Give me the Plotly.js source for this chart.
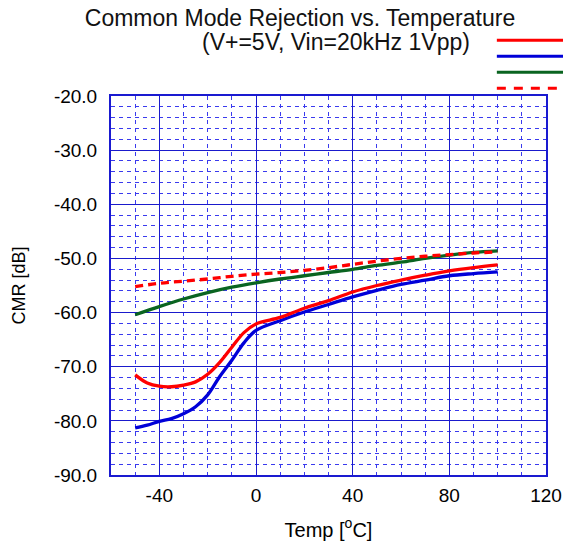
<!DOCTYPE html>
<html>
<head>
<meta charset="utf-8">
<script src="https://cdn.plot.ly/plotly-3.0.1.min.js"></script>
<style>html,body{margin:0;padding:0;background:#fff;}#chart{width:563px;height:550px;}</style>
</head>
<body>
<div id="chart"></div>
<script>
// Temperatures [°C]
const tempA = [-50,-45,-40,-35,-30,-25,-20,-15,-10,-5,0,10,20,30,40,50,60,70,80,90,100];
const cmrRed = [-71.5,-73.0,-73.6,-73.7,-73.4,-72.8,-71.4,-69.2,-66.4,-63.7,-62.1,-60.9,-59.2,-57.8,-56.2,-55.0,-54.0,-53.1,-52.3,-51.7,-51.2];
const cmrBlue = [-81.3,-80.8,-80.1,-79.6,-78.7,-77.4,-75.2,-71.8,-68.8,-65.6,-63.3,-61.5,-59.9,-58.5,-57.1,-55.9,-54.8,-54.0,-53.2,-52.8,-52.5];
const tempB = [-50,-40,-30,-20,-10,0,10,20,30,40,50,60,70,80,90,100];
const cmrGreen = [-60.4,-58.9,-57.5,-56.3,-55.3,-54.5,-53.8,-53.2,-52.6,-52.0,-51.3,-50.7,-50.0,-49.4,-48.9,-48.6];
const cmrRedDash = [-55.2,-54.6,-54.2,-53.8,-53.3,-52.9,-52.6,-52.2,-51.7,-51.1,-50.5,-50.0,-49.6,-49.3,-49.0,-48.8];
const xTicks = [-40,0,40,80,120];
const yTicks = [-90,-80,-70,-60,-50,-40,-30,-20];

const RED = '#ff0000', BLUE = '#0000d8', GREEN = '#0a6420';
const FONT = 'Liberation Sans, Arial, sans-serif';

const traces = [
  {x: tempB, y: cmrGreen, mode: 'lines', line: {color: GREEN, width: 3.3, shape: 'spline'}, name: 'green'},
  {x: tempB, y: cmrRedDash, mode: 'lines', line: {color: RED, width: 3.3, dash: '8px,5px', shape: 'spline'}, name: 'red dashed'},
  {x: tempA, y: cmrBlue, mode: 'lines', line: {color: BLUE, width: 3.3, shape: 'spline'}, name: 'blue'},
  {x: tempA, y: cmrRed, mode: 'lines', line: {color: RED, width: 3.3, shape: 'spline'}, name: 'red'}
];

// legend keys (labels are cut off at the right edge in the original)
function key(y, color, dash) {
  return {type: 'line', xref: 'paper', yref: 'paper', x0: 0.887, x1: 1.05, y0: y, y1: y,
          line: {color: color, width: 3, dash: dash || 'solid'}};
}

const layout = {
  width: 563, height: 550,
  margin: {l: 111, r: 17, t: 96, b: 75},
  paper_bgcolor: '#fff', plot_bgcolor: '#fff',
  showlegend: false,
  font: {family: FONT, color: '#000', size: 19},
  title: {text: 'Common Mode Rejection vs. Temperature', font: {family: FONT, size: 23, color: '#111'},
          xref: 'container', x: 300/563, xanchor: 'center', yref: 'container', y: 1 - 18/550, yanchor: 'middle'},
  annotations: [
    {text: '(V+=5V, Vin=20kHz 1Vpp)', xref: 'paper', yref: 'paper', x: (336-111)/435, y: (475-42)/379,
     xanchor: 'center', yanchor: 'middle', showarrow: false, font: {family: FONT, size: 23, color: '#111'}}
  ],
  shapes: [
    key((475-40.3)/379, RED),
    key((475-56.3)/379, BLUE),
    key((475-72.3)/379, GREEN),
    key((475-88.3)/379, RED, '9px,8px')
  ],
  xaxis: {
    range: [-60, 120], tickvals: xTicks, ticktext: xTicks.map(String),
    ticks: '', ticklabelstandoff: 2,
    showgrid: true, gridcolor: '#1a1acc', gridwidth: 1,
    showline: true, linecolor: '#1a1ad0', linewidth: 2, mirror: true,
    zeroline: false,
    minor: {dtick: 10, tick0: 0, showgrid: true, gridcolor: '#3a3aee', griddash: '4px,4px', gridwidth: 1},
    tickfont: {size: 19, family: FONT},
    title: {text: 'Temp [<sup>o</sup>C]', font: {size: 20, family: FONT}, standoff: 18}
  },
  yaxis: {
    range: [-90, -20], tickvals: yTicks, ticktext: yTicks.map(v => v.toFixed(1)),
    ticks: '', ticklabelstandoff: 8,
    showgrid: true, gridcolor: '#1a1acc', gridwidth: 1,
    showline: true, linecolor: '#1a1ad0', linewidth: 2, mirror: true,
    zeroline: false,
    minor: {dtick: 2, tick0: 0, showgrid: true, gridcolor: '#3a3aee', griddash: '4px,4px', gridwidth: 1},
    tickfont: {size: 19, family: FONT},
    title: {text: 'CMR [dB]', font: {size: 18, family: FONT}, standoff: 24}
  }
};

Plotly.newPlot('chart', traces, layout, {staticPlot: true, displayModeBar: false});
</script>
</body>
</html>
